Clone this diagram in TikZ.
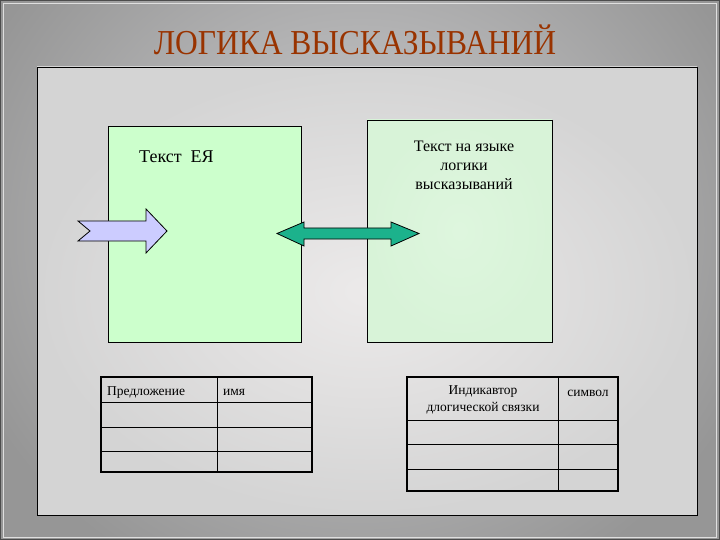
\documentclass[tikz,border=0pt]{standalone}
\usepackage{fontspec}
\setmainfont{Liberation Serif}
\newfontfamily\titlefont[FakeStretch=0.9]{Liberation Serif}
\definecolor{bgin}{RGB}{208,208,210}
\definecolor{bgout}{RGB}{150,150,150}
\definecolor{frin}{RGB}{236,234,234}
\definecolor{frout}{RGB}{212,212,212}
\definecolor{greenL}{RGB}{204,255,204}
\definecolor{greenR}{RGB}{222,246,222}
\definecolor{greenRo}{RGB}{216,243,216}
\definecolor{arrowblue}{RGB}{204,204,255}
\definecolor{teal}{RGB}{28,178,140}
\definecolor{titlec}{RGB}{153,51,0}
\tikzset{
  panel/.style={draw=black, line width=0.9pt, inner sep=0pt},
  tabouter/.style={draw=black, line width=1.6pt},
  tabline/.style={draw=black, line width=0.8pt},
  tabtext/.style={font=\fontsize{13.5}{16}\selectfont, inner sep=0pt},
  boxtext/.style={font=\fontsize{16}{19}\selectfont, align=center, inner sep=0pt},
}
\begin{document}
\begin{tikzpicture}[x=1pt,y=-1pt]
\useasboundingbox (0,0) rectangle (720,540);
% background
\shade[inner color=bgin, outer color=bgout] (-60,-160) rectangle (780,620);
\draw[black!70, line width=1pt] (0.5,0.5) rectangle (719.5,539.5);
\draw[white!75!gray, line width=0.6pt] (3,3) rectangle (716,537);
% title
\node[text=titlec, font=\titlefont\fontsize{35}{38}\selectfont, inner sep=0pt, anchor=base] (title) at (355,55) {ЛОГИКА ВЫСКАЗЫВАНИЙ};
% frame
\node[panel, inner color=frin, outer color=frout, minimum width=660pt, minimum height=448pt] (frame) at (367,291) {};
% boxes
\node[panel, fill=greenL, minimum width=193pt, minimum height=216pt] (left) at (204.5,234) {};
\node[panel, inner color=greenR, outer color=greenRo, minimum width=185pt, minimum height=222pt] (right) at (459.5,231) {};
\node[font=\fontsize{18}{21}\selectfont, inner sep=0pt, anchor=base west] (ltext) at (139,163) {Текст\ \ ЕЯ};
\node[boxtext] (rtext) at (464,165) {Текст на языке\\логики\\высказываний};
% arrows
\draw[fill=arrowblue, line width=0.8pt, line join=miter]
  (78,221) -- (146,221) -- (146,209) -- (167,231) -- (146,253) -- (146,241) -- (78,241) -- (90,231) -- cycle;
\draw[fill=teal, line width=0.8pt, line join=miter]
  (277,233.5) -- (304,222) -- (304,228) -- (391,228) -- (391,222) -- (419,233.5)
  -- (391,246) -- (391,239) -- (304,239) -- (304,246) -- cycle;
% left table
\coordinate (lt1) at (101,377);
\coordinate (lt2) at (312,472);
\draw[tabline] (217,377) -- (217,472);
\draw[tabline] (101,402) -- (312,402);
\draw[tabline] (101,427) -- (312,427);
\draw[tabline] (101,451) -- (312,451);
\draw[tabouter] (lt1) rectangle (lt2);
\node[tabtext, anchor=base west] (h1) at (107,395) {Предложение};
\node[tabtext, anchor=base west] (h2) at (223,395) {имя};
% right table
\coordinate (rt1) at (407,377);
\coordinate (rt2) at (618,491);
\draw[tabline] (558,377) -- (558,491);
\draw[tabline] (407,420) -- (618,420);
\draw[tabline] (407,444) -- (618,444);
\draw[tabline] (407,469) -- (618,469);
\draw[tabouter] (rt1) rectangle (rt2);
\node[tabtext, align=center, font=\fontsize{13.5}{17}\selectfont] (h3) at (483,400) {Индикавтор\\длогической связки};
\node[tabtext] (h4) at (588,393) {символ};
\end{tikzpicture}
\end{document}
